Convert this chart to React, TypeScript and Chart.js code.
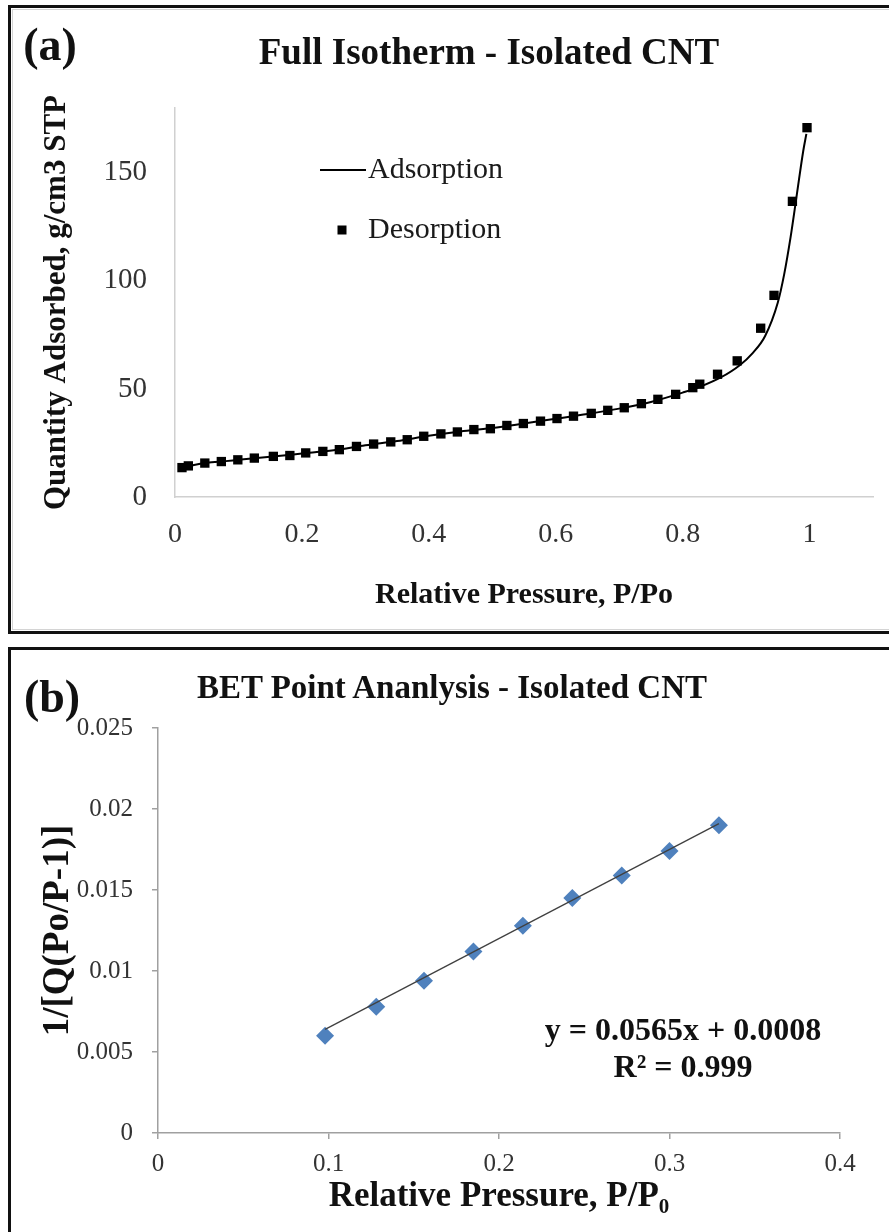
import React, { useEffect, useRef } from 'react';
import { Chart, registerables } from 'chart.js';

Chart.register(...registerables);

const SERIF = "'Liberation Serif', 'Times New Roman', Times, serif";

// ---------- Panel (a): full isotherm ----------
const desorptionP = [
  0.011, 0.021, 0.047, 0.073, 0.099, 0.125, 0.155, 0.181, 0.206, 0.233,
  0.259, 0.286, 0.313, 0.34, 0.366, 0.392, 0.419, 0.445, 0.471, 0.497,
  0.523, 0.549, 0.576, 0.602, 0.628, 0.656, 0.682, 0.708, 0.735, 0.761,
  0.789, 0.816, 0.827, 0.855, 0.886, 0.923, 0.944, 0.973, 0.996,
];
const desorptionQ = [
  13.6, 14.4, 15.7, 16.4, 17.2, 18.0, 18.8, 19.2, 20.4, 21.1,
  21.9, 23.4, 24.5, 25.5, 26.5, 28.1, 29.2, 30.1, 31.2, 31.6,
  33.1, 34.0, 35.1, 36.3, 37.4, 38.7, 40.1, 41.3, 43.2, 45.2,
  47.5, 50.6, 52.2, 56.8, 63.0, 78.1, 93.3, 136.8, 170.9,
];
const adsorptionP = [
  0.01, 0.03, 0.05, 0.08, 0.1, 0.15, 0.2, 0.25, 0.3, 0.35,
  0.4, 0.45, 0.5, 0.55, 0.6, 0.65, 0.7, 0.75, 0.8, 0.83,
  0.86, 0.89, 0.91, 0.93, 0.95, 0.96, 0.97, 0.98, 0.99, 0.995,
];
const adsorptionQ = [
  13.3, 14.8, 15.8, 16.6, 17.2, 18.6, 20.1, 21.6, 23.9, 25.9,
  28.3, 30.3, 31.9, 34.0, 36.2, 38.4, 40.9, 44.0, 48.3, 51.3,
  55.3, 61.0, 66.5, 74.5, 90.0, 103.0, 120.0, 140.0, 160.0, 168.0,
];
const isoXTicks = [0, 0.2, 0.4, 0.6, 0.8, 1];
const isoYTicks = [0, 50, 100, 150];

// ---------- Panel (b): BET plot ----------
const betP = [0.098, 0.128, 0.156, 0.185, 0.214, 0.243, 0.272, 0.3, 0.329];
const betY = [0.006, 0.0078, 0.0094, 0.0112, 0.0128, 0.0145, 0.0159, 0.0174, 0.019];
const trendP = [0.098, 0.329];
const trendY = [0.0064, 0.0191];
const betXTicks = [0, 0.1, 0.2, 0.3, 0.4];
const betYTicks = [0, 0.005, 0.01, 0.015, 0.02, 0.025];

const toPts = (xs: number[], ys: number[]) => xs.map((x, i) => ({ x, y: ys[i] }));
const setTicks = (vals: number[]) => (scale: any) => {
  scale.ticks = vals.map((v) => ({ value: v }));
};

const isoLegend = {
  id: 'isoLegend',
  afterDraw(chart: any) {
    const { ctx, chartArea } = chart;
    const L = chartArea.left;
    const T = chartArea.top;
    ctx.save();
    // Adsorption: line sample
    ctx.strokeStyle = '#000';
    ctx.lineWidth = 2;
    ctx.beginPath();
    ctx.moveTo(L + 145, T + 62);
    ctx.lineTo(L + 191, T + 62);
    ctx.stroke();
    // Desorption: square sample
    ctx.fillStyle = '#000';
    ctx.fillRect(L + 167 - 4.5, T + 122 - 4.5, 9, 9);
    ctx.fillStyle = '#1a1a1a';
    ctx.font = `30px ${SERIF}`;
    ctx.textAlign = 'left';
    ctx.textBaseline = 'middle';
    ctx.fillText('Adsorption', L + 193, T + 62);
    ctx.fillText('Desorption', L + 193, T + 122);
    ctx.restore();
  },
};

function IsothermChart() {
  const ref = useRef<HTMLCanvasElement | null>(null);
  useEffect(() => {
    if (!ref.current) return;
    const chart = new Chart(ref.current, {
      type: 'scatter',
      data: {
        datasets: [
          {
            type: 'line',
            label: 'Adsorption',
            data: toPts(adsorptionP, adsorptionQ),
            borderColor: '#000',
            borderWidth: 2,
            pointRadius: 0,
            showLine: true,
            fill: false,
            cubicInterpolationMode: 'monotone',
          } as any,
          {
            label: 'Desorption',
            data: toPts(desorptionP, desorptionQ),
            pointStyle: 'rect',
            pointRadius: 6.6,
            backgroundColor: '#000',
            borderColor: '#000',
            borderWidth: 0,
            showLine: false,
          },
        ],
      },
      options: {
        responsive: false,
        animation: false,
        devicePixelRatio: 1,
        layout: { padding: { left: 0, right: 16, top: 100, bottom: 0 } },
        plugins: {
          legend: { display: false },
          title: { display: false },
          tooltip: { enabled: false },
        },
        scales: {
          x: {
            type: 'linear',
            min: 0,
            max: 1.1,
            afterBuildTicks: setTicks(isoXTicks),
            afterFit: (s: any) => {
              s.height = 134;
            },
            grid: { display: false, drawTicks: false },
            border: { display: true, color: '#d0d0d0', width: 1.5 },
            ticks: {
              padding: 21,
              color: '#333',
              font: { family: SERIF, size: 28 },
              maxRotation: 0,
              autoSkip: false,
              callback: (v: any) => String(v),
            },
            title: {
              display: true,
              text: 'Relative Pressure, P/Po',
              color: '#111',
              font: { family: SERIF, size: 30, weight: 'bold' },
              padding: { top: 0, bottom: 18 },
            },
          },
          y: {
            type: 'linear',
            min: 0,
            max: 180,
            afterBuildTicks: setTicks(isoYTicks),
            afterFit: (s: any) => {
              s.width = 164;
            },
            grid: { display: false, drawTicks: false },
            border: { display: true, color: '#d0d0d0', width: 1.5 },
            ticks: {
              padding: 28,
              color: '#333',
              font: { family: SERIF, size: 29 },
              autoSkip: false,
              callback: (v: any) => String(v),
            },
            title: {
              display: true,
              text: 'Quantity Adsorbed, g/cm3 STP',
              color: '#111',
              font: { family: SERIF, size: 31, weight: 'bold' },
              padding: { top: 27, bottom: 0 },
            },
          },
        },
      } as any,
      plugins: [isoLegend],
    });
    return () => chart.destroy();
  }, []);
  return (
    <canvas
      ref={ref}
      width={878}
      height={623}
      style={{ position: 'absolute', left: 0, top: 0, width: 878, height: 623 }}
    />
  );
}

function BetChart() {
  const ref = useRef<HTMLCanvasElement | null>(null);
  useEffect(() => {
    if (!ref.current) return;
    const chart = new Chart(ref.current, {
      type: 'scatter',
      data: {
        datasets: [
          {
            type: 'line',
            label: 'Linear fit',
            data: toPts(trendP, trendY),
            borderColor: '#404040',
            borderWidth: 1.3,
            pointRadius: 0,
            showLine: true,
            fill: false,
          } as any,
          {
            label: 'BET points',
            data: toPts(betP, betY),
            pointStyle: 'rectRot',
            pointRadius: 9,
            backgroundColor: '#4F81BD',
            borderColor: '#4F81BD',
            borderWidth: 0,
            showLine: false,
          },
        ],
      },
      options: {
        responsive: false,
        animation: false,
        devicePixelRatio: 1,
        layout: { padding: { left: 0, right: 49, top: 78, bottom: 0 } },
        plugins: {
          legend: { display: false },
          title: { display: false },
          tooltip: { enabled: false },
        },
        scales: {
          x: {
            type: 'linear',
            min: 0,
            max: 0.4,
            afterBuildTicks: setTicks(betXTicks),
            afterFit: (s: any) => {
              s.height = 99;
            },
            grid: {
              display: true,
              drawOnChartArea: false,
              drawTicks: true,
              tickLength: 6,
              color: '#a0a0a0',
              lineWidth: 1.5,
            },
            border: { display: true, color: '#a0a0a0', width: 1.5 },
            ticks: {
              padding: 10,
              color: '#333',
              font: { family: SERIF, size: 25 },
              maxRotation: 0,
              autoSkip: false,
              callback: (v: any) => String(v),
            },
            title: {
              display: true,
              text: 'Relative Pressure, P/P\u2080',
              color: '#111',
              font: { family: SERIF, size: 35, weight: 'bold' },
              padding: { top: 0, bottom: 14 },
            },
          },
          y: {
            type: 'linear',
            min: 0,
            max: 0.025,
            afterBuildTicks: setTicks(betYTicks),
            afterFit: (s: any) => {
              s.width = 147;
            },
            grid: {
              display: true,
              drawOnChartArea: false,
              drawTicks: true,
              tickLength: 6,
              color: '#a0a0a0',
              lineWidth: 1.5,
            },
            border: { display: true, color: '#a0a0a0', width: 1.5 },
            ticks: {
              padding: 19,
              color: '#333',
              font: { family: SERIF, size: 25 },
              autoSkip: false,
              callback: (v: any) => String(v),
            },
            title: {
              display: true,
              text: '1/[Q(Po/P-1)]',
              color: '#111',
              font: { family: SERIF, size: 37, weight: 'bold' },
              padding: { top: 25, bottom: 0 },
            },
          },
        },
      } as any,
    });
    return () => chart.destroy();
  }, []);
  return (
    <canvas
      ref={ref}
      width={878}
      height={582}
      style={{ position: 'absolute', left: 0, top: 0, width: 878, height: 582 }}
    />
  );
}

const centered = (x: number, y: number, size: number, extra: any = {}): any => ({
  position: 'absolute',
  left: x,
  top: y,
  transform: 'translate(-50%, -50%)',
  whiteSpace: 'nowrap',
  lineHeight: 1,
  fontFamily: SERIF,
  fontWeight: 'bold',
  fontSize: size,
  color: '#111',
  ...extra,
});

export default function App() {
  return (
    <div
      style={{
        position: 'absolute',
        left: 0,
        top: 0,
        width: 889,
        height: 1232,
        overflow: 'hidden',
        background: '#fff',
      }}
    >
      {/* Panel (a) */}
      <div
        style={{
          position: 'absolute',
          left: 8,
          top: 5,
          width: 900,
          height: 629,
          border: '3px solid #111',
          boxSizing: 'border-box',
        }}
      >
        <div
          style={{
            position: 'absolute',
            left: 1,
            top: 1,
            right: 1,
            bottom: 1,
            border: '1px solid #d4d4d4',
          }}
        />
        <IsothermChart />
      </div>
      {/* Panel (b) */}
      <div
        style={{
          position: 'absolute',
          left: 8,
          top: 647,
          width: 900,
          height: 620,
          border: '3px solid #111',
          boxSizing: 'border-box',
        }}
      >
        <BetChart />
      </div>

      {/* Overlay text */}
      <div style={centered(50, 45, 46)}>(a)</div>
      <div style={centered(489, 51, 37)}>Full Isotherm - Isolated CNT</div>
      <div style={centered(52, 697, 46)}>(b)</div>
      <div style={centered(452, 687, 33)}>BET Point Ananlysis - Isolated CNT</div>
      <div style={centered(683, 1029, 32)}>y = 0.0565x + 0.0008</div>
      <div style={centered(683, 1066, 32)}>R² = 0.999</div>
    </div>
  );
}
